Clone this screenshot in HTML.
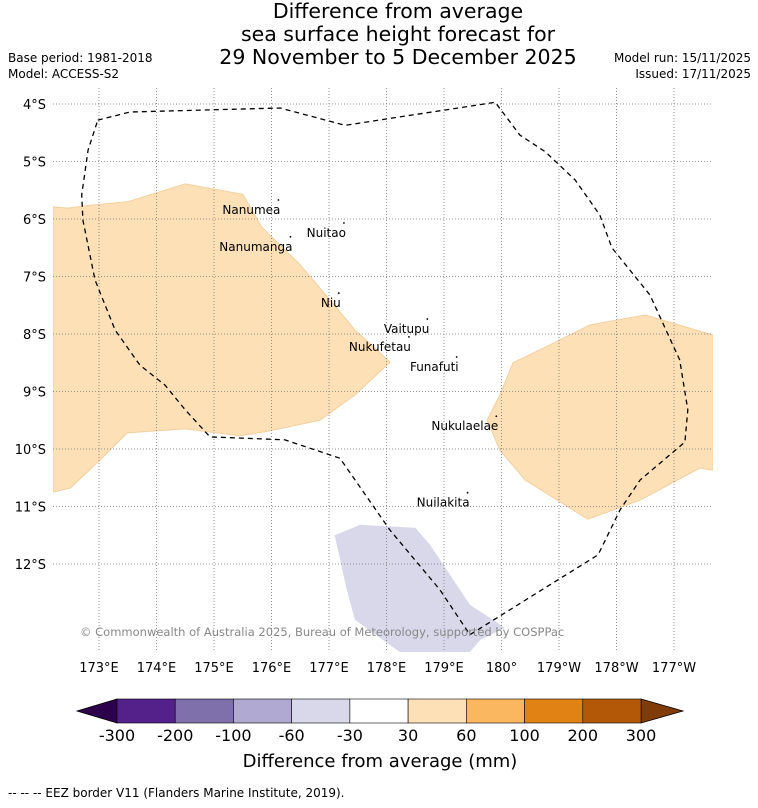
<!DOCTYPE html>
<html><head><meta charset="utf-8">
<style>
body{margin:0;background:#fff;font-family:"DejaVu Sans","Liberation Sans",sans-serif;}
svg text{font-family:"DejaVu Sans","Liberation Sans",sans-serif;}
</style></head>
<body>
<svg id="chart" width="758" height="804" viewBox="0 0 758 804" xmlns="http://www.w3.org/2000/svg">
<text x="398" y="18" font-size="20.5" text-anchor="middle">Difference from average</text>
<text x="398" y="41" font-size="20.5" text-anchor="middle">sea surface height forecast for</text>
<text x="398" y="64" font-size="20.5" text-anchor="middle">29 November to 5 December 2025</text>
<text x="8" y="62" font-size="12">Base period: 1981-2018</text>
<text x="8" y="78" font-size="12">Model: ACCESS-S2</text>
<text x="751" y="62" font-size="12" text-anchor="end">Model run: 15/11/2025</text>
<text x="751" y="78" font-size="12" text-anchor="end">Issued: 17/11/2025</text>
<g id="map"></g>
<g id="cbar"></g>
<text x="380" y="767" font-size="18" text-anchor="middle">Difference from average (mm)</text>
<text x="8" y="797" font-size="12">--  --  -- EEZ border V11 (Flanders Marine Institute, 2019).</text>
</svg>
<script>
const lonTicks=[173,174,175,176,177,178,179,180,181,182,183];
const lonLabels=["173°E","174°E","175°E","176°E","177°E","178°E","179°E","180°","179°W","178°W","177°W"];
const latTicks=[4,5,6,7,8,9,10,11,12];
const latLabels=["4°S","5°S","6°S","7°S","8°S","9°S","10°S","11°S","12°S"];
const orangeWest=[[172.2,5.79],[172.46,5.81],[172.84,5.76],[173.49,5.70],[174.5,5.39],[175.5,5.57],[175.83,6.14],[176.5,6.8],[177.02,7.41],[177.45,7.93],[178.06,8.49],[177.45,9.06],[176.84,9.5],[175.89,9.7],[175.45,9.77],[174.5,9.65],[173.49,9.72],[173.02,10.19],[172.5,10.68],[172.2,10.75]];
const orangeEast=[[183.68,8.02],[182.5,7.67],[181.54,7.84],[180.84,8.19],[180.2,8.5],[179.97,9.06],[179.75,9.5],[179.97,10.02],[180.41,10.54],[181.5,11.22],[182.41,10.89],[183.45,10.33],[183.68,10.37]];
const purpleArea=[[177.1,11.5],[177.54,11.32],[178.5,11.37],[178.76,11.67],[179.45,12.71],[180.06,13.11],[179.63,13.32],[179.45,13.53],[178.23,13.53],[177.45,12.97],[177.31,12.45]];
const eez=[[172.98,4.28],[173.54,4.14],[176.15,4.07],[177.28,4.37],[179.89,3.97],[180.32,4.54],[180.76,4.83],[181.28,5.32],[181.71,5.93],[181.92,6.5],[182.58,7.32],[183.1,8.45],[183.24,9.32],[183.19,9.88],[182.41,10.54],[182.06,11.06],[181.68,11.84],[179.45,13.23],[178.93,12.45],[178.06,11.41],[177.19,10.16],[176.23,9.84],[174.93,9.79],[174.5,9.32],[174.15,8.89],[173.71,8.54],[173.28,7.93],[172.93,7.06],[172.72,6.02],[172.7,5.58],[172.81,4.8],[172.98,4.28]];
const islands=["Nanumea","Nuitao","Nanumanga","Niu","Vaitupu","Nukufetau","Funafuti","Nukulaelae","Nuilakita"];
const islandLon=[176.12,177.26,176.33,177.17,178.71,178.39,179.22,179.91,179.41];
const islandLat=[5.67,6.07,6.31,7.29,7.74,8.05,8.4,9.43,10.76];
const cbColors=["#54208a","#7f6fab","#b0a9d1","#d8d8ea","#ffffff","#fde0b6","#fbb760","#e08214","#b35806"];
const cbLabels=["-300","-200","-100","-60","-30","30","60","100","200","300"];
const NS="http://www.w3.org/2000/svg";
const X=l=>99+(l-173)*57.5, Y=a=>104+(a-4)*57.5;
const L=53,R=713,T=88,B=652;
function mk(t,a,p){const e=document.createElementNS(NS,t);for(const k in a)e.setAttribute(k,a[k]);p.appendChild(e);return e;}
const map=document.getElementById('map');
const defs=mk('defs',{},map);const cp=mk('clipPath',{id:'clip'},defs);mk('rect',{x:L,y:T,width:R-L,height:B-T},cp);
const g=mk('g',{'clip-path':'url(#clip)'},map);
const pts=a=>a.map(p=>X(p[0]).toFixed(1)+','+Y(p[1]).toFixed(1)).join(' ');
let e=mk('polygon',{points:pts(orangeWest),fill:'#fde0b6',stroke:'#f3cfa0','stroke-width':1},g);

e=mk('polygon',{points:pts(orangeEast),fill:'#fde0b6',stroke:'#f3cfa0','stroke-width':1},g);

e=mk('polygon',{points:pts(purpleArea),fill:'#d8d8ea'},g);

lonTicks.forEach((l,i)=>{
 let ln=mk('line',{x1:X(l),x2:X(l),y1:T,y2:B,stroke:'#777','stroke-width':0.8,'stroke-dasharray':'1,2'},g);
 
 let t=mk('text',{x:X(l),y:672,'font-size':13,'text-anchor':'middle'},map);t.textContent=lonLabels[i];
 
});
latTicks.forEach((a,i)=>{
 let ln=mk('line',{x1:L,x2:R,y1:Y(a),y2:Y(a),stroke:'#777','stroke-width':0.8,'stroke-dasharray':'1,2'},g);
 
 let t=mk('text',{x:46,y:Y(a)+5,'font-size':13,'text-anchor':'end'},map);t.textContent=latLabels[i];
 
});
e=mk('polyline',{points:pts(eez),fill:'none',stroke:'#000','stroke-width':1.3,'stroke-dasharray':'5,4'},g);

islands.forEach((n,i)=>{
 const x=X(islandLon[i]),y=Y(islandLat[i]);
 let d=mk('circle',{cx:x,cy:y,r:0.9,fill:'#000'},g);
 
 let t=mk('text',{x:x+2,y:y+14,'font-size':12,'text-anchor':'end'},g);t.textContent=n;
 
});
e=mk('text',{x:80,y:636,'font-size':11.5,fill:'#888'},g);e.textContent='© Commonwealth of Australia 2025, Bureau of Meteorology, supported by COSPPac';

const cb=document.getElementById('cbar');
const c0=117,c1=641,cy0=699,cy1=723,w=(c1-c0)/cbColors.length;
e=mk('polygon',{points:`${c0},${cy0} 77,711 ${c0},${cy1}`,fill:'#2d004b',stroke:'#000','stroke-width':0.8},cb);

e=mk('polygon',{points:`${c1},${cy0} 683,711 ${c1},${cy1}`,fill:'#7f3b08',stroke:'#000','stroke-width':0.8},cb);

cbColors.forEach((c,i)=>{
 let r=mk('rect',{x:c0+i*w,y:cy0,width:w,height:cy1-cy0,fill:c,stroke:'#000','stroke-width':0.6},cb);
 
});
cbLabels.forEach((s,i)=>{
 let t=mk('text',{x:c0+i*w,y:741,'font-size':16,'text-anchor':'middle'},cb);t.textContent=s;
 
});
</script>
</body></html>
